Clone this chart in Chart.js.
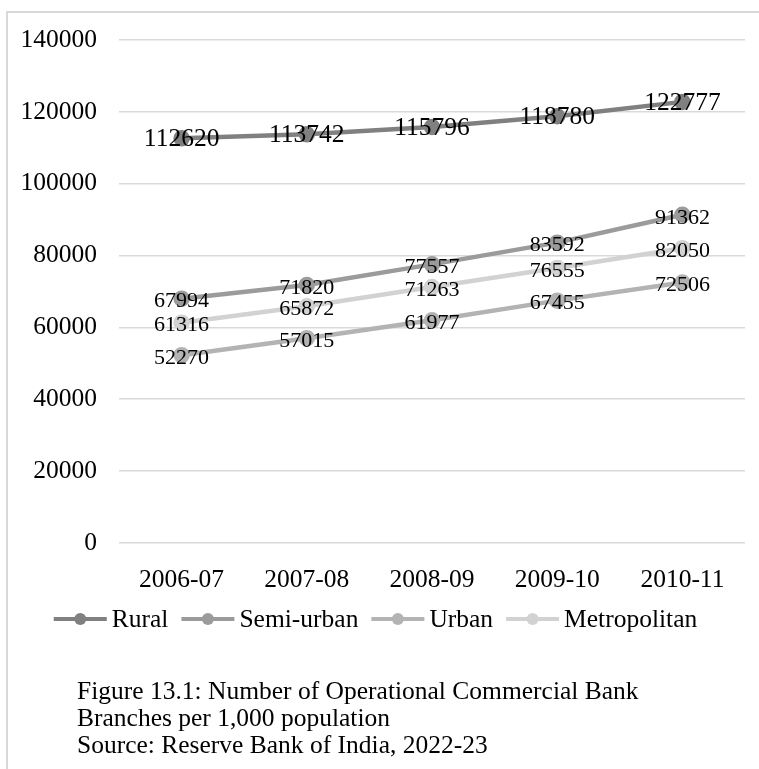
<!DOCTYPE html>
<html>
<head>
<meta charset="utf-8">
<script src="https://cdn.jsdelivr.net/npm/chart.js@4.4.1/dist/chart.umd.min.js"></script>
<style>
  html, body { margin: 0; padding: 0; background: #ffffff; overflow: hidden; }
  body { width: 759px; height: 769px; position: relative; }
  .rule-top { position: absolute; left: 6px; top: 11px; width: 753px; height: 2px; background: #d9d9d9; }
  .rule-left { position: absolute; left: 6px; top: 11px; width: 2px; height: 758px; background: #d9d9d9; }
  #wrap { position: absolute; left: 0; top: 0; width: 759px; height: 769px; }
  .caption {
    position: absolute; left: 77px; top: 677px;
    font-family: "Liberation Serif", "Times New Roman", serif;
    font-size: 25.5px; line-height: 27px; color: #000; white-space: nowrap;
  }
</style>
</head>
<body>
<div class="rule-top"></div>
<div class="rule-left"></div>
<div id="wrap"><canvas id="chart" width="759" height="769"></canvas></div>
<div class="caption">Figure 13.1: Number of Operational Commercial Bank<br>Branches per 1,000 population<br>Source: Reserve Bank of India, 2022-23</div>
<script>
// Operational commercial bank branches by population group
const categories = ['2006-07', '2007-08', '2008-09', '2009-10', '2010-11'];
const seriesNames = ['Rural', 'Semi-urban', 'Urban', 'Metropolitan'];
const rural = [112620, 113742, 115796, 118780, 122777];
const semiUrban = [67994, 71820, 77557, 83592, 91362];
const urban = [52270, 57015, 61977, 67455, 72506];
const metropolitan = [61316, 65872, 71263, 76555, 82050];
const yMin = 0, yMax = 140000, yStep = 20000;

const SERIF = '"Liberation Serif", "Times New Roman", serif';
const colors = ['#808080', '#9b9b9b', '#b3b3b3', '#d2d2d2'];
const labelSizes = [25.5, 22, 22, 22];
const labelShift = [1, 3, 3, 3];

function makeSet(name, values, i) {
  return {
    label: name,
    data: values,
    borderColor: colors[i],
    backgroundColor: colors[i],
    pointBackgroundColor: colors[i],
    pointBorderColor: colors[i],
    borderWidth: 4.5,
    pointRadius: 6,
    pointHoverRadius: 6,
    tension: 0,
    fill: false,
    valueLabelSize: labelSizes[i],
    valueLabelShift: labelShift[i]
  };
}

// value labels drawn centred on each point
const valueLabels = {
  id: 'valueLabels',
  afterDatasetsDraw(chart) {
    const ctx = chart.ctx;
    ctx.save();
    ctx.fillStyle = '#000';
    ctx.textAlign = 'center';
    ctx.textBaseline = 'middle';
    chart.data.datasets.forEach((ds, di) => {
      const meta = chart.getDatasetMeta(di);
      ctx.font = ds.valueLabelSize + 'px ' + SERIF;
      meta.data.forEach((pt, i) => {
        ctx.fillText(String(ds.data[i]), pt.x, pt.y + ds.valueLabelShift);
      });
    });
    ctx.restore();
  }
};

// legend row: line sample with a round marker, then the series name
const lineLegend = {
  id: 'lineLegend',
  afterDraw(chart) {
    const ctx = chart.ctx;
    const sample = 53, gapText = 5, gapItem = 13, y = 619;
    ctx.save();
    ctx.font = '25.5px ' + SERIF;
    const items = chart.data.datasets.map(ds => ({
      ds, w: ctx.measureText(ds.label).width
    }));
    let total = 0;
    items.forEach((it, i) => { total += sample + gapText + it.w + (i ? gapItem : 0); });
    let x = (chart.width - total) / 2 - 4;
    items.forEach((it, i) => {
      if (i) x += gapItem;
      ctx.strokeStyle = it.ds.borderColor;
      ctx.lineWidth = 4;
      ctx.beginPath();
      ctx.moveTo(x, y);
      ctx.lineTo(x + sample, y);
      ctx.stroke();
      ctx.fillStyle = it.ds.borderColor;
      ctx.beginPath();
      ctx.arc(x + sample / 2, y, 6, 0, Math.PI * 2);
      ctx.fill();
      x += sample + gapText;
      ctx.fillStyle = '#000';
      ctx.textAlign = 'left';
      ctx.textBaseline = 'middle';
      ctx.fillText(it.ds.label, x, y + 1);
      x += it.w;
    });
    ctx.restore();
  }
};

new Chart(document.getElementById('chart'), {
  type: 'line',
  data: {
    labels: categories,
    datasets: [
      makeSet(seriesNames[0], rural, 0),
      makeSet(seriesNames[1], semiUrban, 1),
      makeSet(seriesNames[2], urban, 2),
      makeSet(seriesNames[3], metropolitan, 3)
    ]
  },
  options: {
    responsive: false,
    animation: false,
    events: [],
    layout: { padding: { left: 10, right: 14, top: 40, bottom: 166 } },
    plugins: {
      legend: { display: false },
      tooltip: { enabled: false },
      title: { display: false }
    },
    scales: {
      x: {
        offset: true,
        grid: { display: false, drawTicks: false },
        border: { display: false },
        ticks: {
          color: '#000',
          padding: 22,
          font: { family: SERIF, size: 25.5 },
          maxRotation: 0
        },
        afterFit(scale) { scale.height = 60; }
      },
      y: {
        min: yMin,
        max: yMax,
        grid: { color: '#d9d9d9', lineWidth: 1.6, drawTicks: false },
        border: { display: false },
        ticks: {
          stepSize: yStep,
          color: '#000',
          padding: 22,
          font: { family: SERIF, size: 25.5 },
          callback: v => String(v)
        },
        afterFit(scale) { scale.width = 109; }
      }
    }
  },
  plugins: [valueLabels, lineLegend]
});
</script>
</body>
</html>
